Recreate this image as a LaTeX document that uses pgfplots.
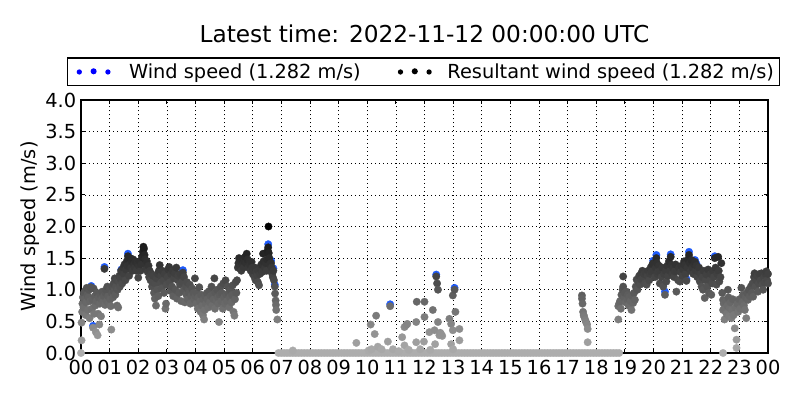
\documentclass[border=0pt]{standalone}
\usepackage{pgfplots}
\pgfplotsset{compat=1.18}
\usepackage{fontspec}
\setmainfont{DejaVu Sans}
\definecolor{wsblue}{RGB}{30,90,250}
\begin{document}
\begin{tikzpicture}
\path[use as bounding box] (-58.32bp,-33.84bp) rectangle (517.68bp,254.16bp);
\begin{axis}[
  at={(0,0)}, anchor=south west,
  scale only axis, width=494.64bp, height=182.16bp,
  xmin=0, xmax=24, ymin=0, ymax=4,
  xtick={0,1,2,3,4,5,6,7,8,9,10,11,12,13,14,15,16,17,18,19,20,21,22,23,24},
  xticklabels={00,01,02,03,04,05,06,07,08,09,10,11,12,13,14,15,16,17,18,19,20,21,22,23,00},
  ytick={0,0.5,1,1.5,2,2.5,3,3.5,4},
  yticklabel style={/pgf/number format/.cd, fixed, fixed zerofill, precision=1},
  /pgf/number format/assume math mode=true,
  tick label style={font=\fontsize{14}{16}\selectfont},
  xticklabel style={yshift=-1.5bp},
  grid=major,
  major grid style={black, line width=0.5bp, dash pattern=on 0.7bp off 2.2bp},
  axis line style={line width=0.8bp},
  major tick length=2.9bp, tick style={black, line width=0.6bp},
  tick align=inside,
  ylabel={Wind speed (m/s)},
  ylabel style={at={(axis description cs:-0.0742,0.5)}, anchor=center, font=\fontsize{14}{16}\selectfont},
  title={Latest time: 2022-11-12 00:00:00 UTC},
  title style={at={(axis description cs:0.5,1.257)}, anchor=center, yshift=-5.5bp, font=\fontsize{16.8}{19}\selectfont},
  legend columns=2,
  legend style={at={(axis description cs:0.4985,1.1107)}, anchor=center, draw=black, line width=0.8bp,
     font=\fontsize{14}{16}\selectfont, inner sep=2bp,
     /tikz/every even column/.append style={column sep=20bp}},
  colormap={wgray}{gray(0cm)=(0.68); gray(1cm)=(0)},
  point meta min=0, point meta max=2,
]
\addplot[only marks, mark=*, mark size=2.7bp, mark options={draw=wsblue, fill=wsblue, line width=0.2bp},
  legend image code/.code={
    \fill[blue, draw=none] (-2bp,0bp) circle (1.9bp);
    \fill[blue, draw=none] (8.3bp,0.5bp) circle (2.2bp);
    \fill[blue, draw=none] (18.6bp,0bp) circle (1.9bp);
    \path[draw=none, fill=none] (-8.6bp,0bp) rectangle (31.8bp,0.1bp);}]
coordinates {
(0.36,1.06)(0.42,0.43)(0.82,1.36)(1.41,1.32)(1.64,1.57)(3.56,1.31)(6.54,1.72)(6.64,1.46)
(6.72,1.34)(6.77,1.08)(10.80,0.77)(12.41,1.24)(13.05,1.03)(19.99,1.46)(20.10,1.55)(20.34,1.08)
(20.40,0.97)(20.60,1.56)(21.15,1.17)(21.24,1.60)(21.45,1.47)(21.50,1.41)(22.14,1.53)(20.20,1.33)
};
\addlegendentry{Wind speed (1.282 m/s)}
\addplot[scatter, only marks, mark=*, mark size=2.7bp, point meta=y,
  scatter/use mapped color={draw=mapped color, fill=mapped color},
  mark options={line width=0.2bp},
  legend image code/.code={
    \fill[black, draw=none] (0bp,0bp) circle (1.9bp);
    \fill[black, draw=none] (10.3bp,0.5bp) circle (2.2bp);
    \fill[black, draw=none] (20.6bp,0bp) circle (1.9bp);
    \path[draw=none, fill=none] (-6.6bp,0bp) rectangle (31.8bp,0.1bp);}]
coordinates {
(0.00,0.00)(0.02,0.20)(0.02,0.48)(0.04,0.65)(0.05,0.78)(0.07,0.88)(0.09,0.72)(0.10,0.95)
(0.12,0.85)(0.14,0.98)(0.16,0.60)(0.18,0.80)(0.20,1.03)(0.22,0.92)(0.24,0.68)(0.26,0.88)
(0.28,1.00)(0.30,0.55)(0.32,0.82)(0.34,1.04)(0.36,1.03)(0.38,0.70)(0.40,0.85)(0.42,0.40)
(0.44,1.02)(0.46,0.62)(0.48,0.90)(0.50,0.75)(0.52,0.33)(0.54,0.82)(0.56,0.95)(0.58,0.28)
(0.60,0.62)(0.62,0.88)(0.64,0.45)(0.66,0.78)(0.68,0.92)(0.70,0.58)(0.72,0.85)(0.74,0.97)
(0.76,0.80)(0.82,1.33)(0.80,0.90)(0.84,0.76)(0.86,0.95)(0.88,1.00)(0.90,0.82)(0.92,1.05)
(0.95,0.90)(0.98,0.78)(1.00,1.00)(1.02,0.85)(1.04,0.74)(1.06,0.37)(1.08,0.95)(1.10,1.05)
(1.12,0.88)(1.14,1.10)(1.16,0.98)(1.18,1.18)(1.20,0.92)(1.22,1.05)(1.24,1.15)(1.26,0.75)
(1.28,1.00)(1.30,0.72)(1.32,1.12)(1.34,1.22)(1.36,1.05)(1.38,1.18)(1.40,1.30)(1.42,1.28)
(1.44,1.10)(1.46,1.20)(1.48,1.35)(1.50,1.25)(1.52,1.40)(1.55,1.15)(1.57,1.32)(1.60,1.45)
(1.62,1.38)(1.64,1.53)(1.66,1.48)(1.68,1.22)(1.70,1.40)(1.72,1.50)(1.75,1.35)(1.78,1.45)
(1.80,1.30)(1.82,1.48)(1.85,1.40)(1.88,1.35)(1.90,1.45)(1.93,1.30)(1.96,1.42)(2.00,1.19)
(2.02,1.38)(2.05,1.45)(2.08,1.30)(2.10,1.40)(2.13,1.52)(2.16,1.60)(2.18,1.68)(2.20,1.65)
(2.22,1.55)(2.24,1.48)(2.26,1.40)(2.28,1.32)(2.30,1.45)(2.33,1.28)(2.36,1.38)(2.38,1.20)
(2.40,1.30)(2.43,1.15)(2.46,1.25)(2.48,1.05)(2.50,1.12)(2.52,1.22)(2.55,0.95)(2.58,0.86)
(2.60,1.10)(2.62,0.75)(2.64,1.18)(2.66,1.00)(2.68,1.25)(2.70,0.90)(2.72,1.30)(2.75,1.39)
(2.78,1.10)(2.80,1.22)(2.82,1.02)(2.85,1.30)(2.88,1.15)(2.90,0.95)(2.92,1.25)(2.95,0.70)
(2.97,0.78)(2.99,1.08)(3.02,1.20)(3.05,1.32)(3.08,1.36)(3.10,1.12)(3.13,0.98)(3.15,1.25)
(3.18,1.05)(3.20,1.30)(3.22,0.90)(3.25,1.18)(3.28,1.26)(3.30,1.00)(3.33,1.35)(3.35,0.86)
(3.38,1.15)(3.40,1.22)(3.43,0.95)(3.46,1.08)(3.48,1.25)(3.50,0.82)(3.53,1.12)(3.56,1.27)
(3.58,0.98)(3.60,1.20)(3.63,0.80)(3.66,1.05)(3.68,0.92)(3.70,1.12)(3.73,0.85)(3.76,1.00)
(3.78,0.95)(3.80,1.08)(3.82,0.78)(3.85,0.90)(3.88,1.02)(3.90,0.80)(3.93,0.95)(3.96,0.85)
(3.98,1.18)(4.00,0.90)(4.03,0.78)(4.05,0.95)(4.08,0.70)(4.10,0.88)(4.13,1.04)(4.16,0.82)
(4.18,0.65)(4.20,0.92)(4.23,0.75)(4.26,0.60)(4.28,0.85)(4.30,0.53)(4.32,0.68)(4.34,0.90)
(4.37,0.78)(4.40,0.95)(4.42,0.85)(4.45,0.72)(4.48,0.98)(4.50,0.80)(4.53,0.90)(4.56,1.05)
(4.58,0.75)(4.60,0.92)(4.63,0.85)(4.66,1.18)(4.68,0.70)(4.70,0.95)(4.73,0.82)(4.76,1.00)
(4.78,0.88)(4.80,0.78)(4.82,0.49)(4.85,0.92)(4.88,1.05)(4.90,0.82)(4.92,0.95)(4.95,0.70)
(4.97,1.10)(5.00,0.88)(5.02,0.78)(5.05,1.15)(5.08,0.92)(5.10,0.82)(5.13,1.05)(5.16,0.95)
(5.18,0.72)(5.20,0.88)(5.23,1.00)(5.26,0.80)(5.28,0.92)(5.30,1.07)(5.33,0.65)(5.36,0.59)
(5.38,0.85)(5.40,1.12)(5.43,0.95)(5.45,1.15)(5.48,1.35)(5.50,1.42)(5.52,1.50)(5.55,1.38)
(5.58,1.45)(5.60,1.30)(5.63,1.48)(5.66,1.40)(5.68,1.35)(5.70,1.45)(5.73,1.52)(5.76,1.42)
(5.79,1.57)(5.82,1.48)(5.85,1.35)(5.88,1.45)(5.90,1.40)(5.93,1.30)(5.96,1.44)(5.98,1.35)
(6.00,1.25)(6.03,1.30)(6.06,1.20)(6.08,1.35)(6.10,1.15)(6.12,1.28)(6.15,1.22)(6.18,1.12)
(6.20,1.30)(6.22,1.07)(6.25,1.25)(6.28,1.32)(6.30,1.40)(6.33,1.28)(6.36,1.57)(6.38,1.45)
(6.40,1.30)(6.43,1.35)(6.46,1.42)(6.48,1.30)(6.50,1.48)(6.52,1.62)(6.54,1.67)(6.55,2.00)
(6.56,1.58)(6.58,1.50)(6.60,1.40)(6.62,1.30)(6.64,1.42)(6.66,1.35)(6.68,1.25)(6.70,1.20)
(6.72,1.30)(6.74,1.15)(6.77,1.05)(6.78,0.94)(6.80,0.83)(6.81,0.76)(6.82,0.68)(6.86,0.53)
(6.9,0)(7.0,0)(7.1,0)(7.2,0)(7.3,0)(7.4,0)(7.5,0)(7.6,0)(7.7,0)(7.8,0)(7.9,0)
(8.0,0)(8.1,0)(8.2,0)(8.3,0)(8.4,0)(8.5,0)(8.6,0)(8.7,0)(8.8,0)(8.9,0)
(9.0,0)(9.1,0)(9.2,0)(9.3,0)(9.4,0)(9.5,0)(9.6,0)(9.7,0)(9.8,0)(9.9,0)
(10.0,0)(10.1,0)(10.2,0)(10.3,0)(10.4,0)(10.5,0)(10.6,0)(10.7,0)(10.8,0)(10.9,0)
(11.0,0)(11.1,0)(11.2,0)(11.3,0)(11.4,0)(11.5,0)(11.6,0)(11.7,0)(11.8,0)(11.9,0)
(12.0,0)(12.1,0)(12.2,0)(12.3,0)(12.4,0)(12.5,0)(12.6,0)(12.7,0)(12.8,0)(12.9,0)
(13.0,0)(13.1,0)(13.2,0)(13.3,0)(13.4,0)(13.5,0)(13.6,0)(13.7,0)(13.8,0)(13.9,0)
(14.0,0)(14.1,0)(14.2,0)(14.3,0)(14.4,0)(14.5,0)(14.6,0)(14.7,0)(14.8,0)(14.9,0)
(15.0,0)(15.1,0)(15.2,0)(15.3,0)(15.4,0)(15.5,0)(15.6,0)(15.7,0)(15.8,0)(15.9,0)
(16.0,0)(16.1,0)(16.2,0)(16.3,0)(16.4,0)(16.5,0)(16.6,0)(16.7,0)(16.8,0)(16.9,0)
(17.0,0)(17.1,0)(17.2,0)(17.3,0)(17.4,0)(17.5,0)(17.6,0)(17.7,0)(17.8,0)(17.9,0)
(18.0,0)(18.1,0)(18.2,0)(18.3,0)(18.4,0)(18.5,0)(18.6,0)(18.7,0)(18.8,0)
(7.40,0.04)(9.62,0.16)(10.05,0.04)(10.15,0.06)(10.37,0.10)(10.50,0.06)(10.72,0.18)(10.90,0.06)
(11.10,0.03)(11.30,0.12)(11.45,0.05)(11.71,0.17)(11.85,0.06)(11.98,0.18)(12.20,0.05)(12.37,0.14)
(12.52,0.28)(12.62,0.27)(12.93,0.14)(13.00,0.06)(13.22,0.20)
(10.12,0.45)(10.26,0.30)(10.31,0.59)(10.80,0.74)(11.22,0.25)(11.30,0.41)(11.36,0.44)(11.40,0.46)
(11.71,0.49)(11.73,0.81)(12.00,0.81)(12.00,0.57)(12.17,0.33)(12.29,0.68)(12.35,0.36)(12.41,1.21)
(12.44,1.10)(12.47,1.00)(12.47,0.49)(12.55,0.32)(12.58,0.30)(12.99,0.91)(13.05,1.00)(13.08,0.65)
(12.87,0.54)(12.93,0.46)(12.99,0.36)(13.22,0.38)
(17.50,0.91)(17.50,0.86)(17.52,0.78)(17.54,0.65)(17.56,0.60)(17.58,0.57)(17.62,0.52)(17.64,0.49)
(17.68,0.45)(17.70,0.38)(17.70,0.17)
(18.77,0.53)(18.77,0.74)(18.80,0.78)(18.83,0.82)(18.86,0.70)(18.88,0.92)(18.92,1.00)(18.94,1.05)
(18.94,1.21)(18.98,0.88)(19.00,0.95)(19.03,0.80)(19.06,0.97)(19.08,0.85)(19.10,0.92)(19.13,0.75)
(19.15,0.88)(19.17,0.89)(19.20,0.82)(19.23,0.68)(19.26,0.90)(19.29,0.79)(19.32,0.95)(19.35,0.84)
(19.38,1.05)(19.41,1.16)(19.44,1.00)(19.47,1.13)(19.50,1.22)(19.53,1.08)(19.56,1.25)(19.58,1.16)
(19.61,1.30)(19.64,1.18)(19.67,1.25)(19.70,1.10)(19.73,1.28)(19.76,1.08)(19.79,1.22)(19.82,1.30)
(19.85,1.15)(19.88,1.25)(19.90,1.35)(19.93,1.29)(19.96,1.40)(19.99,1.42)(20.02,1.30)(20.05,1.20)
(20.08,1.35)(20.10,1.50)(20.12,1.42)(20.14,1.25)(20.16,1.29)(20.19,1.38)(20.20,1.29)(20.22,1.10)
(20.25,1.30)(20.28,1.20)(20.31,1.35)(20.34,1.05)(20.37,1.25)(20.40,0.92)(20.43,1.30)(20.45,1.13)
(20.48,1.38)(20.51,1.22)(20.54,1.45)(20.57,1.30)(20.60,1.52)(20.63,1.39)(20.66,1.25)(20.69,1.35)
(20.72,1.20)(20.74,1.29)(20.77,1.40)(20.80,0.97)(20.83,1.30)(20.86,1.15)(20.89,1.35)(20.92,1.13)
(20.95,1.28)(20.98,1.38)(21.01,1.22)(21.04,1.32)(21.07,1.45)(21.09,1.39)(21.12,1.25)(21.15,1.14)
(21.18,1.35)(21.21,1.48)(21.24,1.55)(21.27,1.42)(21.30,1.30)(21.33,1.47)(21.36,1.35)(21.39,1.25)
(21.42,1.40)(21.45,1.44)(21.48,1.30)(21.50,1.38)(21.53,1.20)(21.56,1.29)(21.59,1.35)(21.62,1.13)
(21.65,1.25)(21.68,1.05)(21.71,1.20)(21.73,1.00)(21.76,1.30)(21.79,0.87)(21.82,1.15)(21.85,1.24)
(21.88,1.05)(21.91,1.32)(21.94,0.95)(21.97,1.15)(22.00,1.25)(22.02,0.92)(22.05,1.10)(22.08,1.30)
(22.11,1.20)(22.14,1.50)(22.17,1.35)(22.20,1.08)(22.23,1.25)(22.26,1.52)(22.28,1.30)(22.30,1.13)
(22.34,1.20)(22.37,1.42)(22.40,0.95)(22.43,0.84)(22.43,0.68)(22.45,0.78)(22.48,0.53)(22.50,0.70)
(22.52,0.82)(22.55,0.62)(22.58,0.75)(22.60,1.00)(22.62,0.88)(22.64,0.58)(22.66,0.71)(22.69,0.80)
(22.72,0.55)(22.74,0.68)(22.77,0.85)(22.80,0.60)(22.84,0.39)(22.87,0.72)(22.90,0.21)(22.90,0.08)
(22.93,0.78)(22.96,0.65)(22.43,0.00)(23.00,0.85)(23.03,0.70)(23.07,1.03)(23.10,0.80)(23.13,0.92)
(23.16,0.75)(23.19,0.68)(23.22,0.88)(23.24,0.55)(23.27,0.95)(23.30,0.84)(23.33,1.00)(23.36,0.90)
(23.40,1.05)(23.43,0.95)(23.46,1.10)(23.48,0.89)(23.51,1.20)(23.53,1.26)(23.56,1.05)(23.59,1.15)
(23.62,1.22)(23.65,0.97)(23.68,1.10)(23.71,1.25)(23.74,1.15)(23.77,1.26)(23.80,1.08)(23.83,1.00)
(23.86,1.20)(23.89,1.12)(23.92,1.25)(23.94,1.29)(23.97,1.15)(24.00,1.10)(24.00,1.25)
};
\addlegendentry{Resultant wind speed (1.282 m/s)}
\end{axis}
\end{tikzpicture}
\end{document}
